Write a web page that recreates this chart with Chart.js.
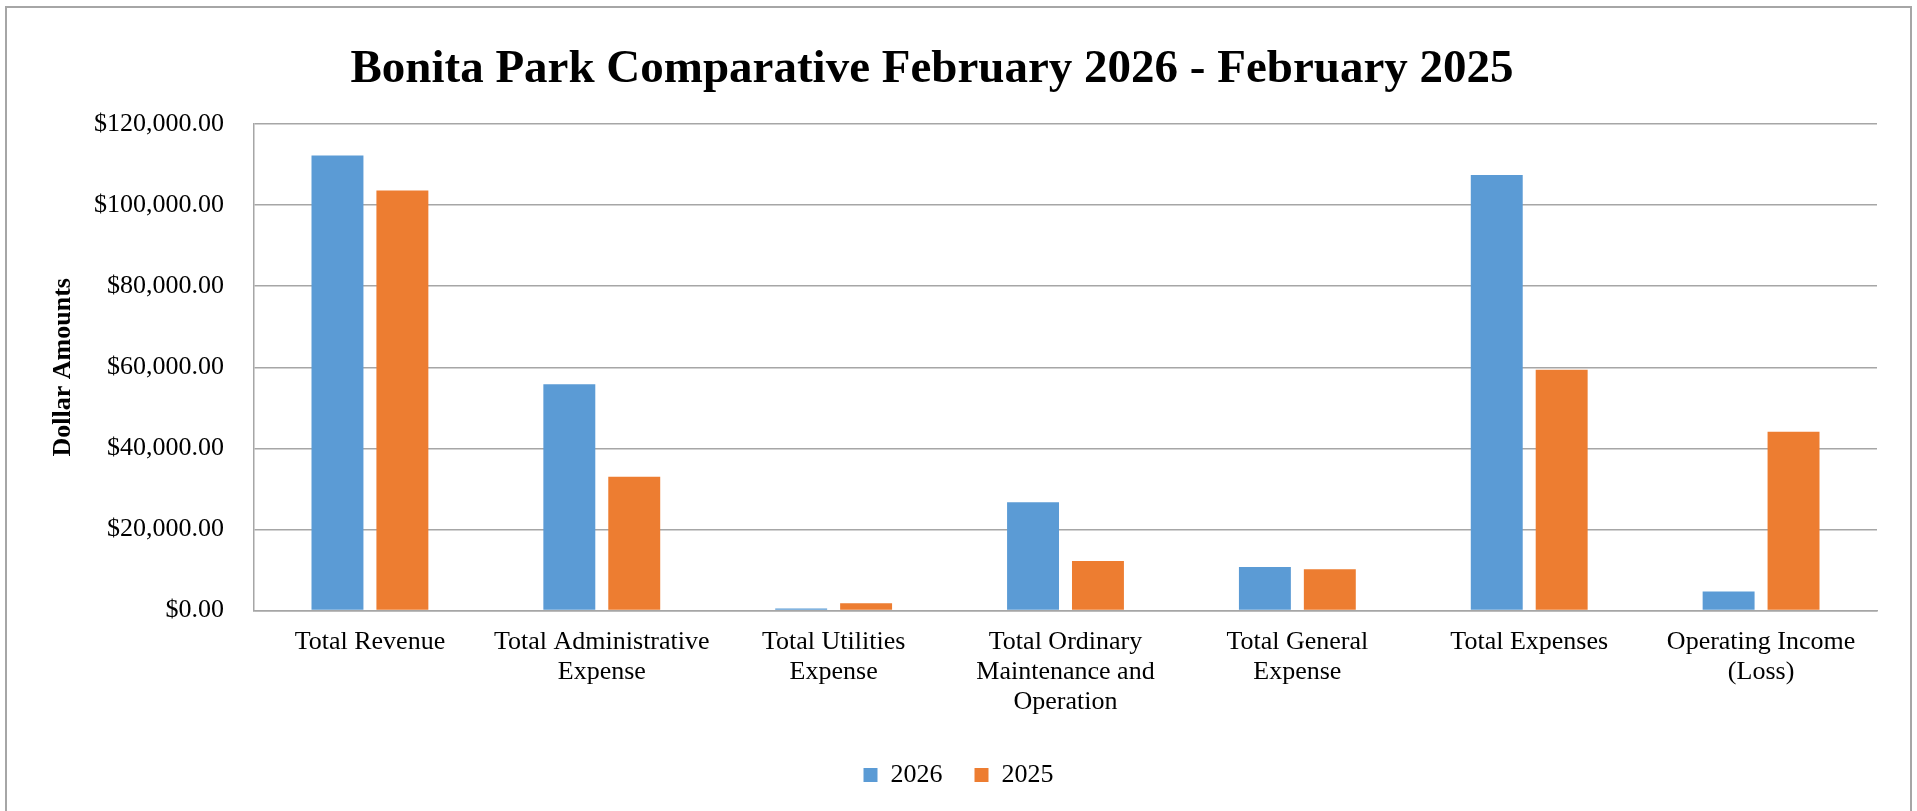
<!DOCTYPE html>
<html>
<head>
<meta charset="utf-8">
<script src="https://cdn.jsdelivr.net/npm/chart.js@4"></script>
<style>
  html, body { margin: 0; padding: 0; background: #ffffff; overflow: hidden; }
  #wrap { position: relative; width: 1917px; height: 811px; }
  #frame { position: absolute; left: 5px; top: 6px; width: 1903px; height: 900px; border: 2px solid #a6a6a6; pointer-events: none; }
  canvas { position: absolute; left: 0; top: 0; }
</style>
</head>
<body>
<div id="wrap">
  <canvas id="c" width="1917" height="811"></canvas>
  <div id="frame"></div>
</div>
<script>
const chartTitle = 'Bonita Park Comparative February 2026 - February 2025';
const yAxisTitle = 'Dollar Amounts';
const categories = [
  'Total Revenue',
  ['Total Administrative', 'Expense'],
  ['Total Utilities', 'Expense'],
  ['Total Ordinary', 'Maintenance and', 'Operation'],
  ['Total General', 'Expense'],
  'Total Expenses',
  ['Operating Income', '(Loss)']
];
const seriesNames = ['2026', '2025'];
const values2026 = [112200, 55800, 500, 26700, 10750, 107400, 4670];
const values2025 = [103600, 33000, 1800, 12200, 10170, 59400, 44080];
const yTickValues = [0, 20000, 40000, 60000, 80000, 100000, 120000];
const yTickLabels = ['$0.00', '$20,000.00', '$40,000.00', '$60,000.00', '$80,000.00', '$100,000.00', '$120,000.00'];

const FONT = "'Liberation Serif', 'Times New Roman', serif";

const titlePlugin = {
  id: 'fixedTitle',
  afterDraw(chart) {
    const ctx = chart.ctx;
    ctx.save();
    ctx.font = "bold 47px " + FONT;
    ctx.fillStyle = '#000000';
    ctx.textAlign = 'center';
    ctx.textBaseline = 'alphabetic';
    ctx.fillText(chartTitle, 932, 82);
    ctx.restore();
  }
};

new Chart(document.getElementById('c'), {
  type: 'bar',
  data: {
    labels: categories,
    datasets: [
      { label: seriesNames[0], data: values2026, backgroundColor: '#5B9BD5', categoryPercentage: 0.56, barPercentage: 0.8 },
      { label: seriesNames[1], data: values2025, backgroundColor: '#ED7D31', categoryPercentage: 0.56, barPercentage: 0.8 }
    ]
  },
  options: {
    responsive: false,
    animation: false,
    devicePixelRatio: 1,
    layout: { padding: { top: 124, bottom: 13, left: 0, right: 0 } },
    plugins: {
      title: { display: false },
      tooltip: { enabled: false },
      legend: {
        position: 'bottom',
        labels: {
          color: '#000000',
          font: { family: FONT, size: 26 },
          boxWidth: 14,
          boxHeight: 14,
          padding: 32
        }
      }
    },
    scales: {
      x: {
        grid: { display: false, drawTicks: false },
        border: { display: true, color: '#a6a6a6', width: 1.5 },
        ticks: {
          color: '#000000',
          font: { family: FONT, size: 26, lineHeight: 1.17 },
          padding: 16,
          maxRotation: 0,
          autoSkip: false
        },
        afterFit(scale) { scale.height = 119.5; }
      },
      y: {
        min: 0,
        max: 120000,
        afterBuildTicks(scale) { scale.ticks = yTickValues.map(v => ({ value: v })); },
        grid: { color: '#a6a6a6', lineWidth: 1.5, drawTicks: false },
        border: { display: true, color: '#a6a6a6', width: 1.5 },
        ticks: {
          color: '#000000',
          font: { family: FONT, size: 26 },
          padding: 30,
          callback: (v, i) => yTickLabels[i]
        },
        title: {
          display: true,
          text: yAxisTitle,
          color: '#000000',
          font: { family: FONT, size: 26, weight: 'bold' },
          padding: { top: 48, bottom: 0 }
        },
        afterFit(scale) { scale.width = 254; }
      },
      yRight: {
        position: 'right',
        display: true,
        grid: { display: false, drawTicks: false },
        border: { display: false },
        ticks: { display: false },
        afterFit(scale) { scale.width = 40; }
      }
    }
  },
  plugins: [titlePlugin]
});
</script>
</body>
</html>
